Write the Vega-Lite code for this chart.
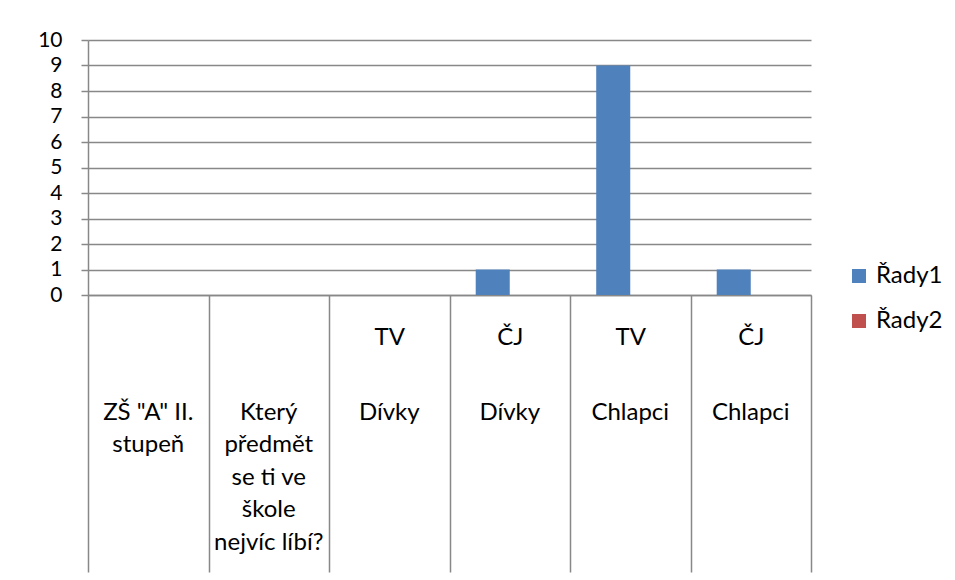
{
  "$schema": "https://vega.github.io/schema/vega-lite/v6.json",
  "width": 723,
  "height": 255,
  "autosize": {"type": "none"},
  "padding": {"left": 88, "top": 40, "right": 144, "bottom": 285},
  "background": "white",
  "config": {"view": {"stroke": null}, "font": "Lato"},
  "data": {
    "values": [
      {"cat": "|ZŠ \"A\" II.~stupeň", "series": "Řady1", "value": null},
      {"cat": "|ZŠ \"A\" II.~stupeň", "series": "Řady2", "value": null},
      {"cat": "|Který~předmět~se ti ve~škole~nejvíc líbí?", "series": "Řady1", "value": null},
      {"cat": "|Který~předmět~se ti ve~škole~nejvíc líbí?", "series": "Řady2", "value": null},
      {"cat": "TV|Dívky", "series": "Řady1", "value": 0},
      {"cat": "TV|Dívky", "series": "Řady2", "value": 0},
      {"cat": "ČJ|Dívky", "series": "Řady1", "value": 1},
      {"cat": "ČJ|Dívky", "series": "Řady2", "value": 0},
      {"cat": "TV|Chlapci", "series": "Řady1", "value": 9},
      {"cat": "TV|Chlapci", "series": "Řady2", "value": 0},
      {"cat": "ČJ|Chlapci", "series": "Řady1", "value": 1},
      {"cat": "ČJ|Chlapci", "series": "Řady2", "value": 0}
    ]
  },
  "resolve": {"axis": {"x": "independent"}},
  "layer": [
    {
      "mark": {"type": "bar"},
      "encoding": {
        "x": {
          "field": "cat",
          "type": "nominal",
          "sort": null,
          "scale": {
            "domain": ["|ZŠ \"A\" II.~stupeň", "|Který~předmět~se ti ve~škole~nejvíc líbí?", "TV|Dívky", "ČJ|Dívky", "TV|Chlapci", "ČJ|Chlapci"],
            "paddingInner": 0,
            "paddingOuter": 0
          },
          "axis": {
            "orient": "bottom",
            "title": null,
            "domain": true,
            "domainColor": "#888888",
            "domainWidth": 1.5,
            "ticks": true,
            "tickBand": "extent",
            "tickSize": 277,
            "tickColor": "#888888",
            "tickWidth": 1.5,
            "labelExpr": "split(datum.label, '|')[0]",
            "labelAngle": 0,
            "labelFontSize": 24,
            "labelColor": "#000000",
            "labelBaseline": "middle",
            "labelPadding": -235,
            "labelOverlap": false,
            "labelBound": false,
            "labelFlush": false,
            "labelLimit": 0
          }
        },
        "xOffset": {
          "field": "series",
          "scale": {"domain": ["Řady1", "Řady2"], "paddingInner": 0, "paddingOuter": 0.77}
        },
        "y": {
          "field": "value",
          "type": "quantitative",
          "scale": {"domain": [0, 10], "nice": false},
          "axis": {
            "title": null,
            "values": [0, 1, 2, 3, 4, 5, 6, 7, 8, 9, 10],
            "grid": true,
            "gridColor": "#888888",
            "gridWidth": 1.5,
            "domain": true,
            "domainColor": "#888888",
            "domainWidth": 1.5,
            "tickColor": "#888888",
            "tickWidth": 1.5,
            "tickSize": 7,
            "labelFontSize": 21,
            "labelColor": "#000000",
            "labelPadding": 19,
            "labelFlush": false,
            "labelOverlap": false
          }
        },
        "color": {
          "field": "series",
          "type": "nominal",
          "scale": {"domain": ["Řady1", "Řady2"], "range": ["#4F81BD", "#C0504D"]},
          "legend": {
            "orient": "none",
            "legendX": 759,
            "legendY": 224,
            "title": null,
            "padding": 0,
            "symbolType": "square",
            "symbolSize": 196,
            "symbolStrokeWidth": 0,
            "labelFontSize": 24,
            "labelColor": "#000000",
            "labelOffset": 5,
            "rowPadding": 21
          }
        }
      }
    },
    {
      "mark": {"type": "point", "opacity": 0},
      "encoding": {
        "x": {
          "field": "cat",
          "type": "nominal",
          "sort": null,
          "scale": {
            "domain": ["|ZŠ \"A\" II.~stupeň", "|Který~předmět~se ti ve~škole~nejvíc líbí?", "TV|Dívky", "ČJ|Dívky", "TV|Chlapci", "ČJ|Chlapci"],
            "paddingInner": 0,
            "paddingOuter": 0
          },
          "axis": {
            "orient": "bottom",
            "title": null,
            "domain": false,
            "ticks": false,
            "labelExpr": "split(split(datum.label, '|')[1], '~')",
            "labelAngle": 0,
            "labelFontSize": 24,
            "labelColor": "#000000",
            "labelBaseline": "top",
            "labelLineHeight": 32.5,
            "labelPadding": 105,
            "labelOverlap": false,
            "labelBound": false,
            "labelFlush": false,
            "labelLimit": 0
          }
        }
      }
    }
  ]
}
